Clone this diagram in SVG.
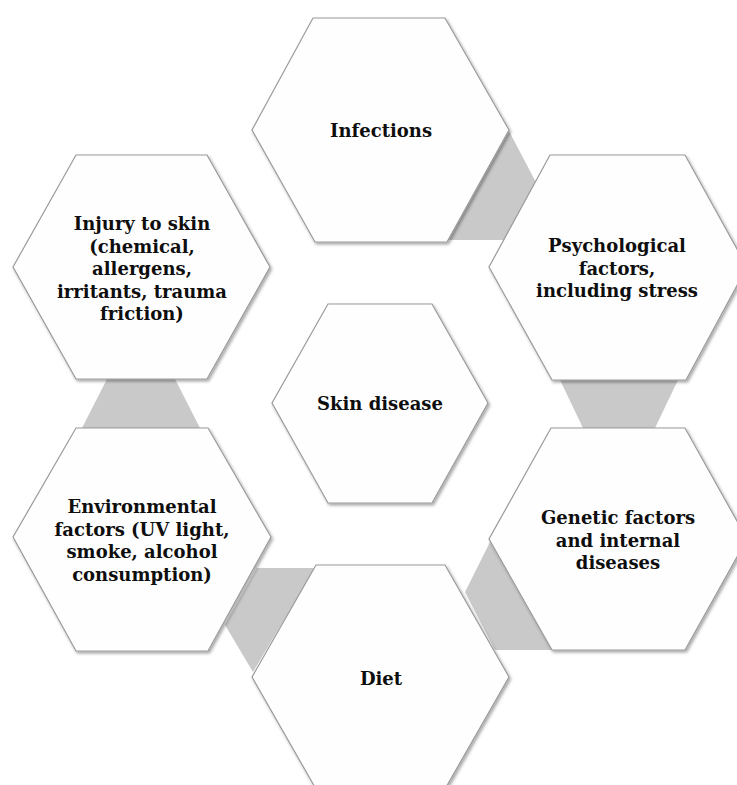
<svg xmlns="http://www.w3.org/2000/svg" width="737" height="785" viewBox="0 0 737 785">
  <defs>
    <filter id="sh" x="-10%" y="-10%" width="125%" height="125%">
      <feDropShadow dx="1.5" dy="2" stdDeviation="1.5" flood-color="#000" flood-opacity="0.35"/>
    </filter>
    <style>
      .hex { fill: #fefefe; stroke: #9a9a9a; stroke-width: 1.2; filter: url(#sh); }
      .link { fill: #c9c9c9; stroke: none; }
      .lbl { font-family: "DejaVu Serif", "Liberation Serif", serif; font-weight: bold; font-size: 18px; fill: #0e0e0e; text-anchor: middle; }
    </style>
  </defs>
  <rect width="737" height="785" fill="#ffffff"/>

  <g id="connectors">
    <polygon class="link" points="509,131 540,190 505,240 447,240"/>
    <polygon class="link" points="560,380 678,380 655,428 583,428"/>
    <polygon class="link" points="490,542 465,592 495,650 552,650"/>
    <polygon class="link" points="257,568 315,568 253,672 225,625"/>
    <polygon class="link" points="107,379 175,379 200,428 82,428"/>
  </g>

  <g id="infections">
    <polygon class="hex" points="313,18 445,18 509,130 447,242 315,242 252,130"/>
    <text class="lbl" x="381" y="137">Infections</text>
  </g>

  <g id="psychological">
    <polygon class="hex" points="550,155 685,155 747,267 686,380 552,380 489,267"/>
    <text class="lbl" x="617" y="252">Psychological</text>
    <text class="lbl" x="617" y="274.5">factors,</text>
    <text class="lbl" x="617" y="297">including stress</text>
  </g>

  <g id="injury">
    <polygon class="hex" points="76,155 207,155 270,267 207,379 76,379 13,267"/>
    <text class="lbl" x="142" y="230">Injury to skin</text>
    <text class="lbl" x="142" y="252.5">(chemical,</text>
    <text class="lbl" x="142" y="275">allergens,</text>
    <text class="lbl" x="142" y="297.5">irritants, trauma</text>
    <text class="lbl" x="142" y="320">friction)</text>
  </g>

  <g id="skin-disease">
    <polygon class="hex" points="328,304 432,304 488,403 432,503 328,503 272,403"/>
    <text class="lbl" x="380" y="410">Skin disease</text>
  </g>

  <g id="genetic">
    <polygon class="hex" points="551,428 685,428 747,539 685,650 552,650 489,539"/>
    <text class="lbl" x="618" y="524">Genetic factors</text>
    <text class="lbl" x="618" y="546.5">and internal</text>
    <text class="lbl" x="618" y="569">diseases</text>
  </g>

  <g id="environmental">
    <polygon class="hex" points="76,428 208,428 271,537 208,651 76,651 13,537"/>
    <text class="lbl" x="142" y="513">Environmental</text>
    <text class="lbl" x="142" y="535.5">factors (UV light,</text>
    <text class="lbl" x="142" y="558">smoke, alcohol</text>
    <text class="lbl" x="142" y="580.5">consumption)</text>
  </g>

  <g id="diet">
    <polygon class="hex" points="316,565 445,565 509,677 445,789 316,789 252,677"/>
    <text class="lbl" x="381" y="685">Diet</text>
  </g>
</svg>
